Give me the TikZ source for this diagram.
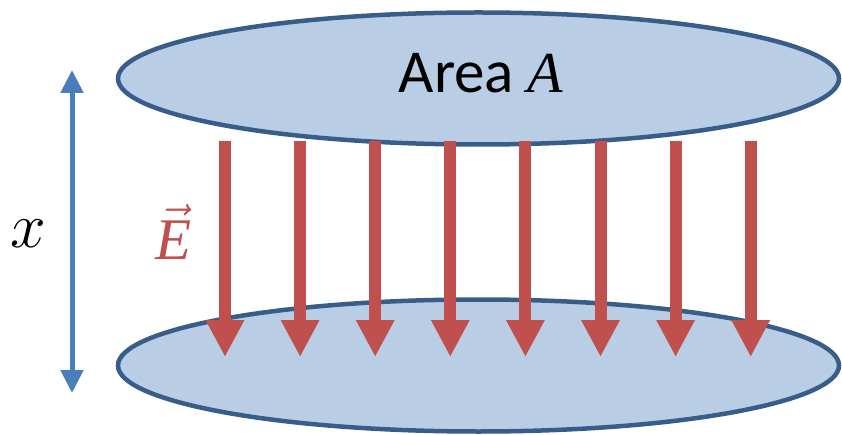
\RequirePackage{fix-cm}
\documentclass[tikz,border=0pt]{standalone}
\usepackage{amsmath}
\usepackage{fontspec}
\setmainfont{Carlito}
\newfontfamily\letterfont{Liberation Serif}
\usepackage{tikz}
\usetikzlibrary{shapes.geometric, arrows.meta}

\definecolor{plateline}{HTML}{385D8A}
\definecolor{platefill}{HTML}{B9CDE5}
\definecolor{fieldred}{HTML}{C0504D}
\definecolor{gapblue}{HTML}{4A7EBB}

\begin{document}
\begin{tikzpicture}[
    x=1pt, y=-1pt,
    plate/.style={ellipse, draw=plateline, fill=platefill, line width=4.5pt,
                  minimum width=721pt, minimum height=132pt, inner sep=0pt},
    field/.style={draw=fieldred, line width=12pt,
                  -{Triangle[length=37pt, width=36pt]}},
    gap/.style={draw=gapblue, line width=5pt,
                {Triangle[length=23pt, width=22pt]}-{Triangle[length=23pt, width=22pt]}},
    letter/.style={inner sep=0pt, font=\letterfont\itshape}
]
    \useasboundingbox (0,0) rectangle (842,435);

    % Two plates
    \node[plate] (upper) at (478.5, 78.5) {};
    \node[plate] (lower) at (478.5, 365.5) {};
    \node[inner sep=0pt, font=\fontsize{61}{70}\selectfont] (arealabel) at (481, 73)
        {Area {\fontsize{58}{70}\letterfont\itshape A}};

    % ── Field lines: upper plate -> lower plate ──
    \foreach \i in {0,...,7} {
        \coordinate (fs\i) at (225+75.1*\i, 141);
        \coordinate (fe\i) at (225+75.1*\i, 357);
        \draw[field] (fs\i) -- (fe\i);
    }
    \node[letter, text=fieldred, font=\fontsize{59}{70}\selectfont] (efield) at (174, 232)
        {$\vec{\text{\letterfont\itshape E}}$};

    % ── Separation x ──
    \coordinate (gaptop) at (72, 70);
    \coordinate (gapbot) at (72, 393);
    \draw[gap] (gaptop) -- (gapbot);
    \node[inner sep=0pt, font=\fontsize{64}{72}\selectfont] (gaplabel) at (28, 234) {$x$};
\end{tikzpicture}
\end{document}
